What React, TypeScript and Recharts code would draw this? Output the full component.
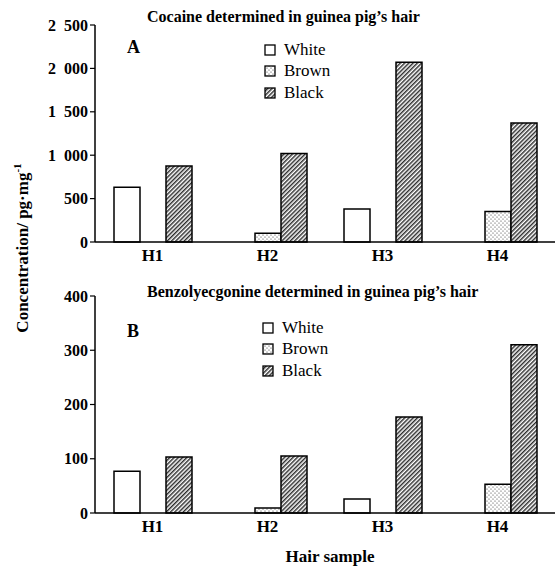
import { BarChart, Bar, XAxis, YAxis, Legend } from 'recharts'

const samples = ['H1', 'H2', 'H3', 'H4']
const seriesNames = ['White', 'Brown', 'Black']

const cocaineWhite = [630, 0, 380, 0]
const cocaineBrown = [0, 100, 0, 350]
const cocaineBlack = [875, 1020, 2070, 1370]
const cocaineTicks = [0, 500, 1000, 1500, 2000, 2500]

const benzoWhite = [77, 0, 26, 0]
const benzoBrown = [0, 9, 0, 53]
const benzoBlack = [103, 105, 177, 310]
const benzoTicks = [0, 100, 200, 300, 400]

const sampleEdges = [1, 2, 3, 4]

const FILLS: Record<string, string> = {
  White: '#ffffff',
  Brown: 'url(#dots)',
  Black: 'url(#hatch)',
}

const FONT = '"Liberation Serif", "Times New Roman", Times, serif'

const fmtTick = (v: number) =>
  v >= 1000 ? `${Math.floor(v / 1000)}\u2002${String(v % 1000).padStart(3, '0')}` : `${v}`

const buildRows = (white: number[], brown: number[], black: number[]) =>
  samples.map((s, i) => ({ sample: s, White: white[i], Brown: brown[i], Black: black[i] }))

const renderLegend = (props: any) => {
  const items = [...props.payload].sort(
    (a: any, b: any) => seriesNames.indexOf(a.value) - seriesNames.indexOf(b.value)
  )
  return (
    <div style={{ fontFamily: FONT }}>
      {items.map((entry: any) => (
        <div key={entry.value} style={{ display: 'flex', alignItems: 'center', height: 21.5 }}>
          <svg width={12} height={12}>
            <rect x={1} y={1} width={10} height={10} fill={FILLS[entry.value]} stroke="#000" strokeWidth={1.3} />
          </svg>
          <span style={{ marginLeft: 8, fontSize: 17, color: '#000' }}>{entry.value}</span>
        </div>
      ))}
    </div>
  )
}

interface PanelProps {
  data: any[]
  ticks: number[]
  height: number
  marginTop: number
  axisHeight: number
  legendLeft: number
  legendTop: number
}

function Panel({ data, ticks, height, marginTop, axisHeight, legendLeft, legendTop }: PanelProps) {
  return (
    <BarChart
      width={560}
      height={height}
      data={data}
      margin={{ top: marginTop, right: 5, left: 0, bottom: 0 }}
      barGap={0}
      barSize={26}
    >
      <XAxis
        dataKey="sample"
        tickLine={false}
        tickSize={0}
        tickMargin={7}
        height={axisHeight}
        axisLine={{ stroke: '#000', strokeWidth: 1.5 }}
        tick={{ fill: '#000', fontSize: 17, fontWeight: 'bold', fontFamily: FONT }}
      />
      <XAxis
        xAxisId="edges"
        type="number"
        domain={[0, 4]}
        ticks={sampleEdges}
        mirror
        tick={false}
        axisLine={false}
        tickLine={{ stroke: '#000', strokeWidth: 1.5 }}
        tickSize={4}
        height={0}
      />
      <YAxis
        domain={[0, ticks[ticks.length - 1]]}
        ticks={ticks}
        interval={0}
        width={95}
        tickSize={5}
        tickMargin={2}
        tickFormatter={fmtTick}
        axisLine={{ stroke: '#000', strokeWidth: 1.5 }}
        tickLine={{ stroke: '#000', strokeWidth: 1.2 }}
        tick={{ fill: '#000', fontSize: 16, fontWeight: 'bold', fontFamily: FONT }}
      />
      <Legend
        layout="vertical"
        align="center"
        verticalAlign="middle"
        content={renderLegend}
        wrapperStyle={{ left: legendLeft, top: legendTop, width: 100 }}
      />
      {seriesNames.map((name) => (
        <Bar
          key={name}
          dataKey={name}
          name={name}
          fill={FILLS[name]}
          stroke="#000"
          strokeWidth={1.5}
          isAnimationActive={false}
        />
      ))}
    </BarChart>
  )
}

const textBold = { position: 'absolute' as const, fontWeight: 'bold', color: '#000', whiteSpace: 'nowrap' as const }

export default function App() {
  return (
    <div style={{ position: 'absolute', left: 0, top: 0, width: 560, height: 570, background: '#fff', fontFamily: FONT, overflow: 'hidden' }}>
      <svg width={0} height={0} style={{ position: 'absolute' }}>
        <defs>
          <pattern id="dots" width={4} height={4} patternUnits="userSpaceOnUse">
            <rect width={4} height={4} fill="#fff" />
            <circle cx={1} cy={1} r={0.6} fill="#333" />
            <circle cx={3} cy={3} r={0.6} fill="#333" />
          </pattern>
          <pattern id="hatch" width={3} height={3} patternUnits="userSpaceOnUse" patternTransform="rotate(45)">
            <rect width={3} height={3} fill="#fff" />
            <line x1={0.75} y1={0} x2={0.75} y2={3} stroke="#222" strokeWidth={1.4} />
          </pattern>
        </defs>
      </svg>

      <div style={{ position: 'absolute', left: 0, top: 0 }}>
        <Panel
          data={buildRows(cocaineWhite, cocaineBrown, cocaineBlack)}
          ticks={cocaineTicks}
          height={268}
          marginTop={25}
          axisHeight={26}
          legendLeft={264}
          legendTop={39}
        />
      </div>
      <div style={{ position: 'absolute', left: 0, top: 270 }}>
        <Panel
          data={buildRows(benzoWhite, benzoBrown, benzoBlack)}
          ticks={benzoTicks}
          height={270}
          marginTop={26}
          axisHeight={27}
          legendLeft={262}
          legendTop={47}
        />
      </div>

      <div style={{ ...textBold, left: 147, top: 8, fontSize: 16 }}>Cocaine determined in guinea pig’s hair</div>
      <div style={{ ...textBold, left: 147, top: 283, fontSize: 16 }}>Benzolyecgonine determined in guinea pig’s hair</div>
      <div style={{ ...textBold, left: 127, top: 37, fontSize: 18 }}>A</div>
      <div style={{ ...textBold, left: 127, top: 321, fontSize: 18 }}>B</div>
      <div
        style={{
          ...textBold,
          left: 22,
          top: 248,
          fontSize: 17,
          transform: 'translate(-50%, -50%) rotate(-90deg)',
        }}
      >
        Concentration/ pg·mg<sup style={{ fontSize: 11 }}>-1</sup>
      </div>
      <div style={{ ...textBold, left: 330, top: 557, fontSize: 17, transform: 'translate(-50%, -50%)' }}>Hair sample</div>
    </div>
  )
}
